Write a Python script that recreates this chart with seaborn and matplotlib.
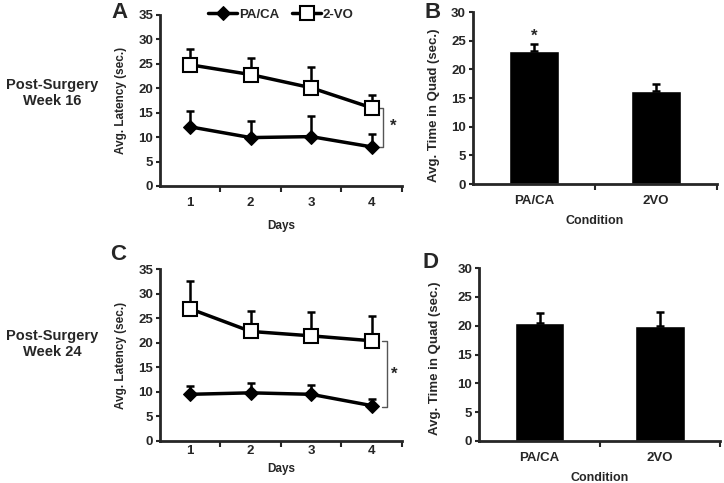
import seaborn as sns
import matplotlib.pyplot as plt
import numpy as np
import pandas as pd

# values
days = [1, 2, 3, 4]
groups = ["PA/CA", "2-VO"]

# week 16 latency (mean, upper error)
w16_paca = [12.1, 9.9, 10.1, 8.0]
w16_paca_err = [3.2, 3.4, 4.3, 2.7]
w16_2vo = [24.8, 22.8, 20.1, 16.0]
w16_2vo_err = [3.2, 3.4, 4.3, 2.6]

# week 24 latency
w24_paca = [9.5, 9.8, 9.5, 7.2]
w24_paca_err = [1.7, 2.0, 1.8, 1.3]
w24_2vo = [26.9, 22.3, 21.4, 20.4]
w24_2vo_err = [5.6, 4.2, 4.8, 5.0]

# time in quadrant
conditions = ["PA/CA", "2VO"]
w16_quad = [23.2, 16.3]
w16_quad_err = [1.3, 1.2]
w24_quad = [20.4, 20.0]
w24_quad_err = [1.8, 2.4]

sns.set_style("ticks")
plt.rcParams['font.family'] = ['Liberation Sans', 'DejaVu Sans']
plt.rcParams['font.weight'] = 'bold'

fig = plt.figure(figsize=(7.24, 4.83), dpi=100)
axA = fig.add_axes([0.221, 0.615, 0.334, 0.354])
axB = fig.add_axes([0.653, 0.619, 0.337, 0.356])
axC = fig.add_axes([0.221, 0.087, 0.334, 0.356])
axD = fig.add_axes([0.662, 0.087, 0.333, 0.358])


def style_axis(ax, ymax, nx, first, xpad):
    for s in ["top", "right"]:
        ax.spines[s].set_visible(False)
    for s in ["left", "bottom"]:
        ax.spines[s].set_linewidth(2)
    ax.set_ylim(0, ymax)
    ax.set_yticks(np.arange(0, ymax + 1, 5))
    ax.set_xlim(first - 0.5, first + nx - 0.5)
    ax.set_xticks(np.arange(first + 0.5, first + nx, 1.0), minor=True)
    ax.tick_params(axis="x", which="major", length=0, pad=xpad, labelsize=9.5)
    ax.tick_params(axis="x", which="minor", length=4, width=1.5, direction="out")
    ax.tick_params(axis="y", length=3, width=1.5, labelsize=9.5, pad=2)
    for lbl in ax.get_xticklabels() + ax.get_yticklabels():
        lbl.set_fontweight("bold")


def line_panel(ax, paca, paca_err, vo, vo_err, br, star, legend, xpad, lpad):
    df = pd.DataFrame({
        "Day": days * 2,
        "Latency": paca + vo,
        "Group": ["PA/CA"] * 4 + ["2-VO"] * 4,
    })
    x = np.array(days)
    ax.errorbar(x, paca, yerr=[np.zeros(4), paca_err], fmt="none",
                ecolor="black", elinewidth=1.8, capsize=3, capthick=1.8, zorder=1)
    ax.errorbar(x, vo, yerr=[np.zeros(4), vo_err], fmt="none",
                ecolor="black", elinewidth=1.8, capsize=3, capthick=1.8, zorder=1)
    sns.lineplot(data=df[df.Group == "PA/CA"], x="Day", y="Latency", ax=ax,
                 color="black", lw=2.5, marker="D", markersize=7,
                 markerfacecolor="black", markeredgecolor="black",
                 label="PA/CA", zorder=3)
    sns.lineplot(data=df[df.Group == "2-VO"], x="Day", y="Latency", ax=ax,
                 color="black", lw=2.5, marker="s", markersize=10,
                 markerfacecolor="white", markeredgecolor="black",
                 markeredgewidth=1.5, label="2-VO", zorder=3)
    style_axis(ax, 35, 4, 1, xpad)
    ax.set_xticks(days)
    ax.set_xticklabels([str(d) for d in days], fontweight="bold")
    ax.set_xlabel("Days", fontsize=8.5, fontweight="bold", labelpad=lpad)
    ax.set_ylabel("Avg. Latency (sec.)", fontsize=8.5, fontweight="bold", labelpad=8)
    # significance bracket
    bx, y0, y1 = br
    ax.plot([bx - 0.07, bx, bx, bx - 0.07], [y0, y0, y1, y1], color="#555555",
            lw=1, clip_on=False)
    ax.text(star[0], star[1], "*", fontsize=12, fontweight="bold",
            ha="center", va="center")
    if legend:
        ax.legend(loc="center", bbox_to_anchor=(0.5, 1.0), ncol=2, frameon=False,
                  fontsize=9.5, handlelength=2.2, columnspacing=1.0,
                  handletextpad=0.1, borderaxespad=0)
    else:
        ax.get_legend().remove()


def bar_panel(ax, vals, errs, star, ylab_x, ylab_y):
    df = pd.DataFrame({"Condition": conditions, "Time": vals})
    sns.barplot(data=df, x="Condition", y="Time", ax=ax, color="black",
                width=0.41, saturation=1, errorbar=None)
    ax.errorbar([0, 1], vals, yerr=[np.zeros(2), errs], fmt="none",
                ecolor="black", elinewidth=1.8, capsize=3, capthick=1.8)
    style_axis(ax, 30, 2, 0, 8)
    ax.set_xlabel("Condition", fontsize=9, fontweight="bold", labelpad=6)
    ax.set_ylabel("Avg. Time in Quad (sec.)", fontsize=9.5, fontweight="bold")
    ax.yaxis.set_label_coords(ylab_x, ylab_y)
    if star:
        ax.text(0, vals[0] + errs[0] + 1.3, "*", fontsize=12, fontweight="bold",
                ha="center", va="center")


line_panel(axA, w16_paca, w16_paca_err, w16_2vo, w16_2vo_err,
           (4.19, 16.0, 8.0), (4.36, 12.2), True, 8, 8)
line_panel(axC, w24_paca, w24_paca_err, w24_2vo, w24_2vo_err,
           (4.25, 20.3, 7.0), (4.38, 13.5), False, 3, 4)
bar_panel(axB, w16_quad, w16_quad_err, True, -0.135, 0.46)
bar_panel(axD, w24_quad, w24_quad_err, False, -0.16, 0.48)

# panel letters
fig.text(119 / 724, 1 - 13 / 483, "A", fontsize=16, fontweight="bold", ha="center", va="center")
fig.text(433 / 724, 1 - 13 / 483, "B", fontsize=16, fontweight="bold", ha="center", va="center")
fig.text(118 / 724, 1 - 255 / 483, "C", fontsize=16, fontweight="bold", ha="center", va="center")
fig.text(431 / 724, 1 - 263 / 483, "D", fontsize=16, fontweight="bold", ha="center", va="center")

# row labels
fig.text(52 / 724, 1 - 93 / 483, "Post-Surgery\nWeek 16", fontsize=10.5, fontweight="bold",
         ha="center", va="center", linespacing=1.2)
fig.text(52 / 724, 1 - 344 / 483, "Post-Surgery\nWeek 24", fontsize=10.5, fontweight="bold",
         ha="center", va="center", linespacing=1.2)

fig.savefig("out.png", dpi=100)
